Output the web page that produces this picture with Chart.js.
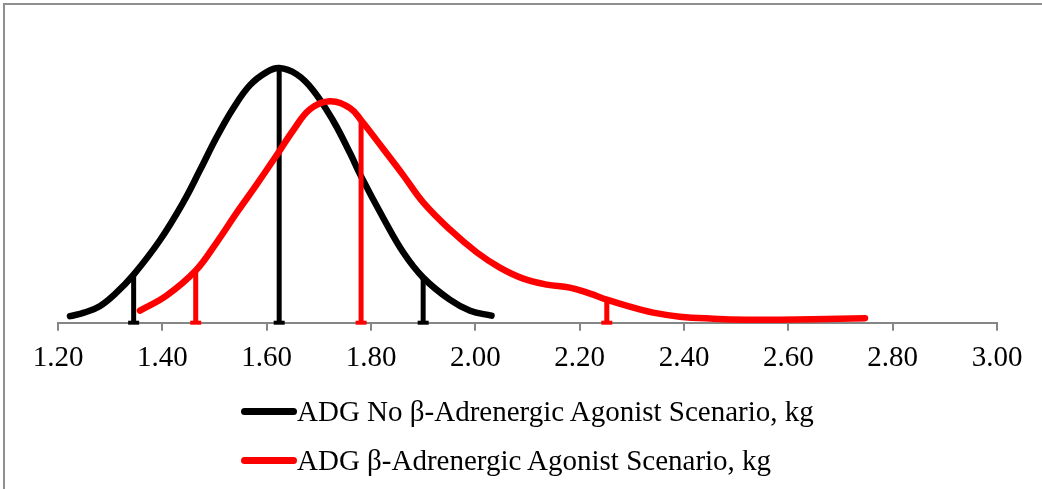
<!DOCTYPE html>
<html>
<head>
<meta charset="utf-8">
<script src="https://cdn.jsdelivr.net/npm/chart.js@4"></script>
<style>
  body { margin: 0; background: #fff; }
  #wrap { position: relative; width: 1042px; height: 489px; overflow: hidden; }
  #frame { position: absolute; left: 3px; top: 3px; width: 1100px; height: 600px; border: 2px solid #8f8f8f; }
  #chartBox { position: absolute; left: 0; top: 0; width: 1042px; height: 489px; }
  .legend-row { position: absolute; left: 241px; height: 30px; font-family: "Liberation Serif", "Times New Roman", serif; font-size: 29px; line-height: 30px; color: #000; white-space: nowrap; }
  .legend-row .swatch { position: absolute; left: 0; top: 12px; width: 56px; height: 7px; border-radius: 3.5px; }
  .legend-row .txt { position: absolute; left: 56px; top: 0; }
</style>
</head>
<body>
<div id="wrap">
  <div id="frame"></div>
  <div id="chartBox"><canvas id="adgChart"></canvas></div>
  <div id="legend"></div>
</div>
<script>
// x-axis tick labels
const tickValues = [1.2, 1.4, 1.6, 1.8, 2.0, 2.2, 2.4, 2.6, 2.8, 3.0];

// No beta-agonist scenario (black curve)
const noBaX = [1.223, 1.25, 1.28, 1.31, 1.345, 1.395, 1.44, 1.472, 1.504, 1.536, 1.568, 1.60, 1.624, 1.657, 1.689, 1.728, 1.76, 1.781, 1.824, 1.862, 1.90, 1.951, 1.99, 2.031];
const noBaY = [0.065, 0.10, 0.165, 0.29, 0.48, 0.82, 1.20, 1.52, 1.85, 2.14, 2.37, 2.50, 2.54, 2.48, 2.32, 2.01, 1.69, 1.46, 1.04, 0.70, 0.45, 0.23, 0.12, 0.07];

// Beta-agonist scenario (red curve)
const baX = [1.357, 1.408, 1.464, 1.504, 1.543, 1.581, 1.619, 1.651, 1.683, 1.721, 1.76, 1.781, 1.824, 1.862, 1.90, 1.951, 2.003, 2.047, 2.092, 2.137, 2.181, 2.22, 2.252, 2.296, 2.341, 2.392, 2.456, 2.52, 2.584, 2.648, 2.747];
const baY = [0.12, 0.27, 0.52, 0.80, 1.10, 1.38, 1.67, 1.92, 2.13, 2.21, 2.14, 2.02, 1.73, 1.47, 1.20, 0.93, 0.70, 0.55, 0.44, 0.38, 0.35, 0.29, 0.23, 0.16, 0.10, 0.06, 0.04, 0.03, 0.03, 0.035, 0.045];

// percentile markers (5th, 50th, 95th) and the curve height where they stop
const noBaMarkX = [1.345, 1.624, 1.90];
const noBaMarkY = [0.48, 2.54, 0.45];
const baMarkX = [1.464, 1.781, 2.252];
const baMarkY = [0.52, 2.02, 0.23];

const seriesLabels = [
  "ADG No β-Adrenergic Agonist Scenario, kg",
  "ADG β-Adrenergic Agonist Scenario, kg"
];
const seriesColors = ["#000000", "#ff0000"];

const FONT = "'Liberation Serif', 'Times New Roman', serif";

function pts(xs, ys) {
  return xs.map((x, i) => ({ x: x, y: ys[i] }));
}

function markerSets(xs, ys, color, order) {
  return xs.map((x, i) => ({
    label: "marker",
    data: [{ x: x, y: 0 }, { x: x, y: ys[i] }],
    borderColor: color,
    backgroundColor: color,
    borderWidth: 5,
    tension: 0,
    pointStyle: "line",
    pointRadius: [5.5, 0],
    pointBorderWidth: 4,
    pointBorderColor: color,
    pointHoverRadius: 0,
    clip: false,
    order: order,
  }));
}

const datasets = [
  {
    label: seriesLabels[0],
    data: pts(noBaX, noBaY),
    borderColor: seriesColors[0],
    borderWidth: 6.5,
    borderCapStyle: "round",
    tension: 0.4,
    pointRadius: 0,
    clip: false,
    order: 4,
  },
  ...markerSets(noBaMarkX, noBaMarkY, seriesColors[0], 3),
  {
    label: seriesLabels[1],
    data: pts(baX, baY),
    borderColor: seriesColors[1],
    borderWidth: 6.5,
    borderCapStyle: "round",
    tension: 0.4,
    pointRadius: 0,
    clip: false,
    order: 2,
  },
  ...markerSets(baMarkX, baMarkY, seriesColors[1], 1),
];

new Chart(document.getElementById("adgChart").getContext("2d"), {
  type: "line",
  data: { datasets: datasets },
  options: {
    responsive: true,
    maintainAspectRatio: false,
    animation: false,
    layout: { padding: { left: 58, right: 45, top: 22, bottom: 103.5 } },
    plugins: {
      legend: { display: false },
      tooltip: { enabled: false },
    },
    scales: {
      x: {
        type: "linear",
        min: 1.2,
        max: 3.0,
        afterBuildTicks: (scale) => {
          scale.ticks = tickValues.map((v) => ({ value: v }));
        },
        grid: {
          drawOnChartArea: false,
          drawTicks: true,
          tickLength: 8,
          color: "#868686",
          lineWidth: 2,
        },
        border: { display: true, color: "#868686", width: 2 },
        ticks: {
          callback: (v) => Number(v).toFixed(2),
          color: "#000",
          font: { family: FONT, size: 29 },
          padding: 10,
          maxRotation: 0,
          autoSkip: false,
        },
      },
      y: {
        display: false,
        min: 0,
        max: 3.0,
      },
    },
  },
});

// legend
const legend = document.getElementById("legend");
seriesLabels.forEach((txt, i) => {
  const row = document.createElement("div");
  row.className = "legend-row";
  row.style.top = (396 + i * 49) + "px";
  row.innerHTML = '<span class="swatch" style="background:' + seriesColors[i] + '"></span><span class="txt"></span>';
  row.querySelector(".txt").textContent = txt;
  legend.appendChild(row);
});
</script>
</body>
</html>
